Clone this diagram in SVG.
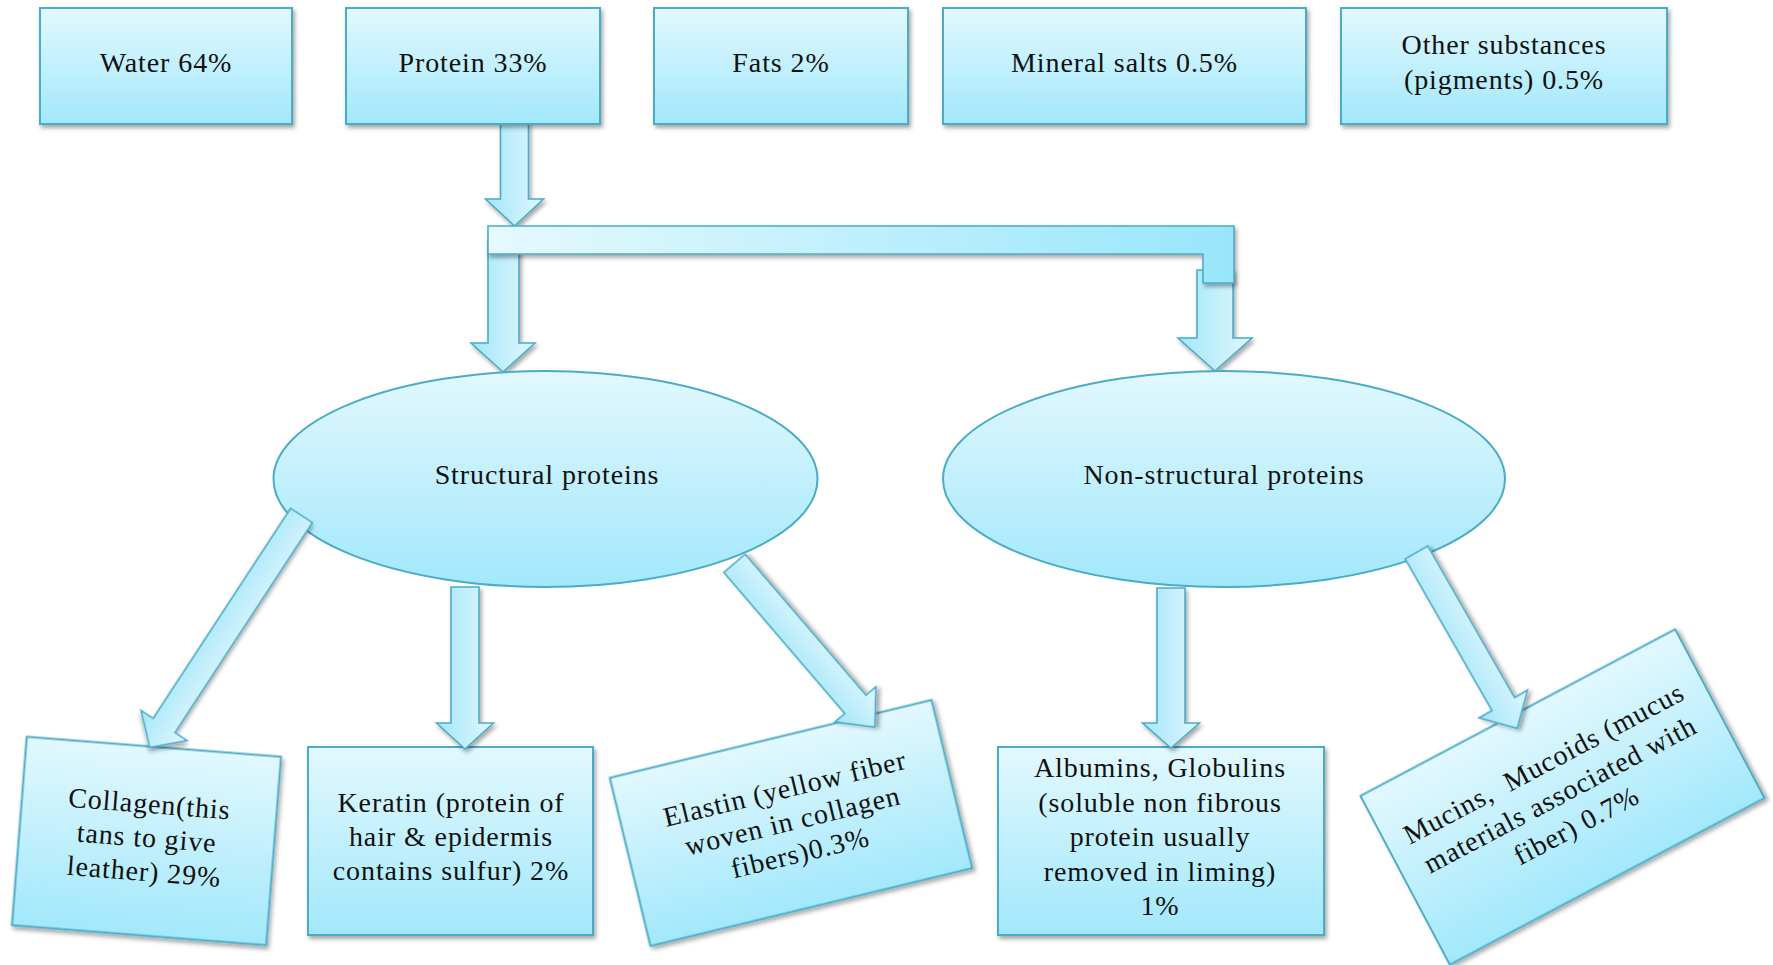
<svg xmlns="http://www.w3.org/2000/svg" width="1773" height="965" viewBox="0 0 1773 965">
  <defs>
    <linearGradient id="fillV" x1="0" y1="0" x2="0" y2="1">
      <stop offset="0" stop-color="#e2f8fe"/>
      <stop offset="1" stop-color="#a2e8fb"/>
    </linearGradient>
    <linearGradient id="fillArrow" x1="0" y1="0" x2="1" y2="0">
      <stop offset="0" stop-color="#a4e6f8"/>
      <stop offset="1" stop-color="#e0f7fe"/>
    </linearGradient>
    <linearGradient id="fillBar" x1="0" y1="0" x2="1" y2="0">
      <stop offset="0" stop-color="#e6f9fe"/>
      <stop offset="1" stop-color="#98e6fb"/>
    </linearGradient>
    <filter id="shadow" x="-10%" y="-10%" width="120%" height="130%">
      <feDropShadow dx="2" dy="3" stdDeviation="2" flood-color="#000" flood-opacity="0.35"/>
    </filter>
  </defs>
  <style>
    .box { fill: url(#fillV); stroke: #4bacc6; stroke-width: 2; filter: url(#shadow); }
    .oval { fill: url(#fillV); stroke: #4bacc6; stroke-width: 2; }
    .arrow { fill: url(#fillArrow); stroke: #4bacc6; stroke-width: 1.6; stroke-linejoin: miter; filter: url(#shadow); }
    .bar { fill: url(#fillBar); stroke: #4bacc6; stroke-width: 1.6; filter: url(#shadow); }
    text { font-family: "Liberation Serif", "Times New Roman", serif; font-size: 28px; letter-spacing: 0.9px; fill: #111; text-anchor: middle; }
  </style>

  <rect width="1773" height="965" fill="#ffffff"/>

  <!-- links from the protein box down to the two protein classes (drawn under the nodes) -->
  <g id="upper-connectors">
    <path class="arrow" d="M500.5,122 H528.5 V199 H543.5 L514.5,226 L485.5,199 H500.5 Z"/>
    <path class="arrow" d="M488,240 H519 V343 H535 L503,372 L471,343 H488 Z"/>
    <path class="arrow" d="M1197,270 H1233 V338 H1252 L1215,371 L1178,338 H1197 Z"/>
    <path class="bar" d="M488,226 H1234 V283 H1203 V254 H488 Z"/>
  </g>

  <!-- top row: composition -->
  <g id="water">
    <rect class="box" x="40" y="8" width="252" height="116"/>
    <text x="166" y="72">Water 64%</text>
  </g>
  <g id="protein">
    <rect class="box" x="346" y="8" width="254" height="116"/>
    <text x="473" y="72">Protein 33%</text>
  </g>
  <g id="fats">
    <rect class="box" x="654" y="8" width="254" height="116"/>
    <text x="781" y="72">Fats 2%</text>
  </g>
  <g id="mineral-salts">
    <rect class="box" x="943" y="8" width="363" height="116"/>
    <text x="1124.5" y="72">Mineral salts 0.5%</text>
  </g>
  <g id="other-substances">
    <rect class="box" x="1341" y="8" width="326" height="116"/>
    <text x="1504" y="54">Other substances</text>
    <text x="1504" y="89">(pigments) 0.5%</text>
  </g>

  <!-- protein classes -->
  <g id="structural-proteins">
    <ellipse class="oval" cx="545.5" cy="479" rx="272" ry="108"/>
    <text x="547" y="484">Structural proteins</text>
  </g>
  <g id="non-structural-proteins">
    <ellipse class="oval" cx="1224" cy="479" rx="281" ry="108"/>
    <text x="1224" y="484">Non-structural proteins</text>
  </g>

  <!-- bottom row: individual proteins -->
  <g id="collagen" transform="translate(146.5,841) rotate(4.5)">
    <rect class="box" x="-127.5" y="-94.5" width="255" height="189"/>
    <text x="0" y="-28">Collagen(this</text>
    <text x="0" y="6">tans to give</text>
    <text x="0" y="40">leather) 29%</text>
  </g>
  <g id="keratin">
    <rect class="box" x="308" y="747" width="285" height="188"/>
    <text x="451" y="812">Keratin (protein of</text>
    <text x="451" y="846">hair &amp; epidermis</text>
    <text x="451" y="880">contains sulfur) 2%</text>
  </g>
  <g id="elastin" transform="translate(791,823) rotate(-13.6)">
    <rect class="box" x="-165.5" y="-86.5" width="331" height="173"/>
    <text x="2" y="-25.5">Elastin (yellow fiber</text>
    <text x="2" y="7.5">woven in collagen</text>
    <text x="2" y="40.5">fibers)0.3%</text>
  </g>
  <g id="albumins-globulins">
    <rect class="box" x="998" y="747" width="326" height="188"/>
    <text x="1160" y="777">Albumins, Globulins</text>
    <text x="1160" y="811.5">(soluble non fibrous</text>
    <text x="1160" y="846">protein usually</text>
    <text x="1160" y="880.5">removed in liming)</text>
    <text x="1160" y="915">1%</text>
  </g>
  <g id="mucins-mucoids" transform="translate(1562.5,797) rotate(-27.9)">
    <rect class="box" x="-178" y="-95.5" width="356" height="191"/>
    <text x="-1" y="-29">Mucins,&#160; Mucoids (mucus</text>
    <text x="-1" y="6">materials associated with</text>
    <text x="-1" y="41">fiber) 0.7%</text>
  </g>

  <!-- arrows from each protein class to its members (drawn over the nodes) -->
  <g id="connectors">
    <path class="arrow" transform="translate(301.5,515.5) rotate(33.2)" d="M-13,0 H13 V251 H27.5 L0,277 L-27.5,251 H-13 Z"/>
    <path class="arrow" d="M451,587 H479 V723 H493.5 L465,749 L436.5,723 H451 Z"/>
    <path class="arrow" transform="translate(734.5,563.3) rotate(-40.6)" d="M-14,0 H14 V185.7 H27 L0,215.7 L-27,185.7 H-14 Z"/>
    <path class="arrow" d="M1157,588 H1185 V723 H1199.5 L1171,748 L1142.5,723 H1157 Z"/>
    <path class="arrow" transform="translate(1416.5,552.5) rotate(-29.8)" d="M-13,0 H13 V174.6 H28 L0,202.6 L-28,174.6 H-13 Z"/>
  </g>
</svg>
